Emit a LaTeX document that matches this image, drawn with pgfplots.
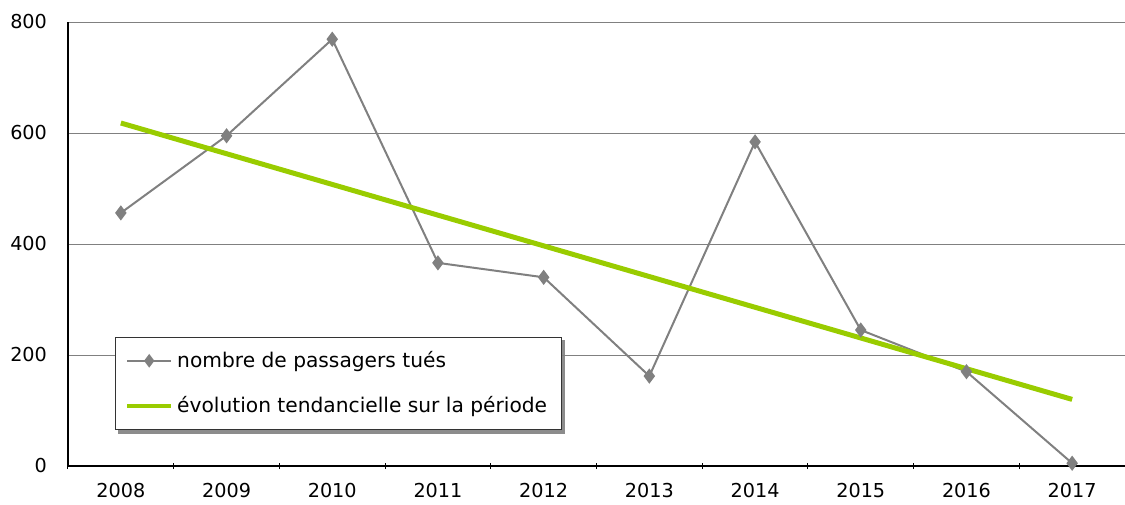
\documentclass[border=0pt]{standalone}
\usepackage{fontspec}
\setmainfont{DejaVu Sans}
\usepackage{pgfplots}
\pgfplotsset{compat=1.18}
\usetikzlibrary{backgrounds}
\definecolor{dgray}{RGB}{128,128,128}
\definecolor{tgreen}{RGB}{153,204,0}
\begin{document}
\begin{tikzpicture}
\begin{axis}[
  scale only axis,
  width=528.5pt, height=222pt,
  xmin=-0.5, xmax=9.5,
  ymin=0, ymax=800,
  axis x line=bottom, axis y line=left,
  axis line style={-, black, line width=0.6pt},
  xtick={0,...,9},
  xticklabels={2008,2009,2010,2011,2012,2013,2014,2015,2016,2017},
  minor xtick={-0.5,0.5,...,9.5},
  major tick length=0pt,
  minor tick length=3pt,
  xtick style={draw=none},
  minor x tick style={draw=black, line width=0.5pt},
  ytick={0,200,...,800},
  ytick style={draw=none},
  ymajorgrids,
  grid style={dgray, line width=0.4pt},
  tick label style={font=\fontsize{9.6}{11}\selectfont},
  /pgf/number format/assume math mode=true,
  xticklabel style={yshift=-5pt},
  yticklabel style={xshift=-7pt},
  clip=false,
  legend cell align=left,
  legend style={
    name=leg,
    at={(rel axis cs:0.0442,0.081)}, anchor=south west,
    font=\fontsize{10.1}{12}\selectfont,
    draw=black!80, line width=0.5pt,
    fill=white,
    row sep=9pt,
    inner xsep=5pt, inner ysep=5pt,
  },
]
\coordinate (bl) at (rel axis cs:0,0);
\coordinate (tr) at (rel axis cs:1,1);
\addplot[dgray, line width=1pt, mark=diamond*, mark size=3pt, mark options={fill=dgray, draw=dgray},
  legend image code/.code={
    \draw[dgray, line width=1pt] (0pt,0pt) -- (22pt,0pt);
    \draw[dgray, fill=dgray] plot[mark=diamond*, mark size=2.6pt] coordinates {(11pt,0pt)};
  }] coordinates {
  (0,456) (1,595) (2,769) (3,366) (4,340) (5,162) (6,584) (7,245) (8,170) (9,5)
};
\addlegendentry{nombre de passagers tués}
\addplot[tgreen, line width=2.5pt,
  legend image code/.code={
    \draw[tgreen, line width=2pt] (0pt,0pt) -- (22pt,0pt);
  }] coordinates {(0,618) (9,120)};
\addlegendentry{évolution tendancielle sur la période}
\end{axis}
\begin{pgfonlayer}{background}
\fill[black!45] ([xshift=1.8pt,yshift=-1.8pt]leg.south west) rectangle ([xshift=1.8pt,yshift=-1.8pt]leg.north east);
\end{pgfonlayer}
\pgfresetboundingbox
\path[use as bounding box] ([xshift=-34pt,yshift=-19pt]bl) rectangle ([yshift=11pt]tr);
\end{tikzpicture}
\end{document}
